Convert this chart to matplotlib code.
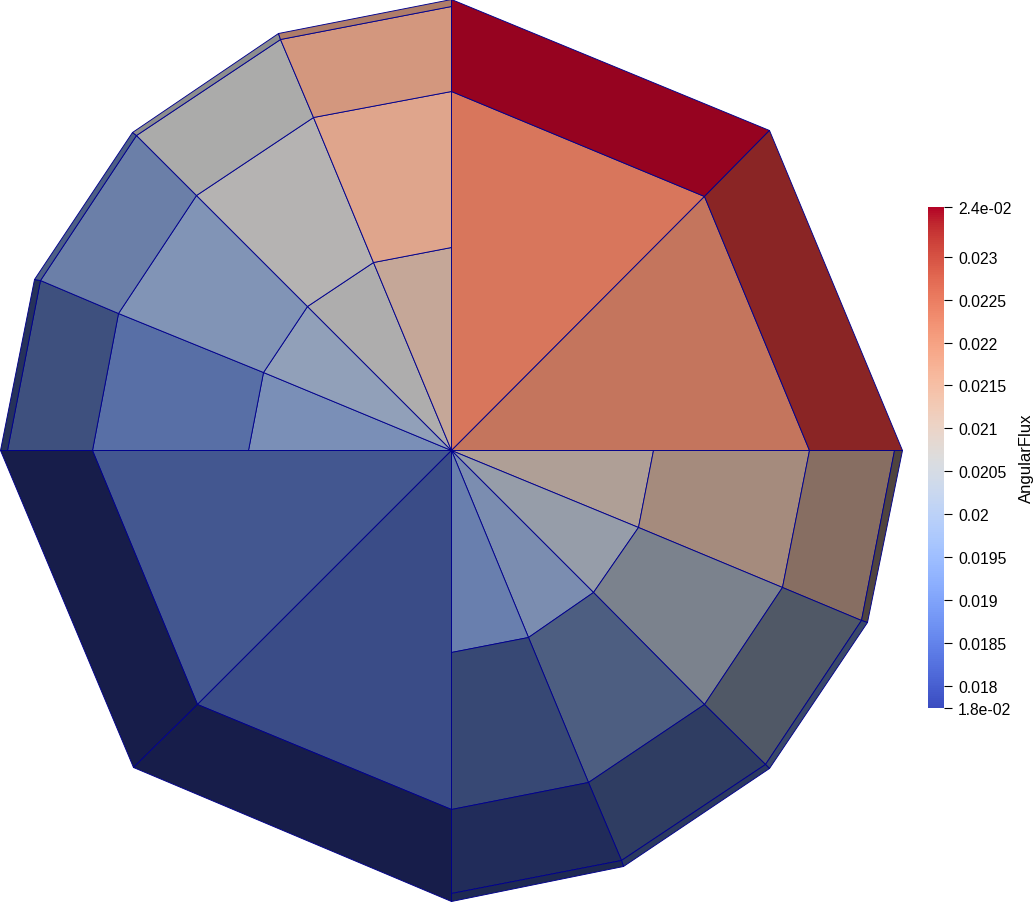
import numpy as np
import matplotlib
matplotlib.use("Agg")
import matplotlib.pyplot as plt
from matplotlib.cm import ScalarMappable
from matplotlib.collections import PolyCollection
from matplotlib.colors import Normalize

plt.rcParams['font.family'] = ['Liberation Sans', 'DejaVu Sans']

# mesh nodes, in screen units of the render
center = (452, 452)
nw_ring1 = [(249, 452), (264, 374), (308, 308), (374, 264), (452, 249)]
nw_ring2 = [(93, 452), (119, 315), (197, 197), (314, 119), (452, 93)]
nw_ring3 = [(8, 452), (41, 282), (137, 137), (281, 41), (452, 8)]
nw_ring4 = [(1, 452), (35, 281), (133, 134), (279, 35), (452, 1)]
se_ring1 = [(654, 452), (639, 529), (594, 594), (529, 639), (452, 654)]
se_ring2 = [(810, 452), (783, 589), (705, 706), (589, 784), (452, 811)]
se_ring3 = [(895, 452), (862, 622), (766, 766), (622, 862), (452, 895)]
se_ring4 = [(903, 452), (868, 624), (770, 770), (624, 868), (452, 903)]
ne_inner = [(452, 93), (705, 198), (810, 452)]
ne_outer = [(452, 1), (770, 132), (903, 452)]
sw_inner = [(93, 452), (198, 706), (452, 811)]
sw_outer = [(1, 452), (134, 769), (452, 903)]

# flux per cell, rows are sectors, columns go from the centre outwards
nw_flux = [[0.01967, 0.01907, 0.01889, 0.01847],
           [0.02008, 0.01982, 0.01956, 0.01930],
           [0.02066, 0.02069, 0.02066, 0.02065],
           [0.02119, 0.02165, 0.02175, 0.02175]]
se_flux = [[0.02096, 0.02125, 0.02133, 0.02113],
           [0.02037, 0.02032, 0.02008, 0.01926],
           [0.01978, 0.01938, 0.01883, 0.01874],
           [0.01941, 0.01879, 0.01813, 0.01818]]
ne_flux = [[0.02244, 0.02356], [0.02224, 0.02327]]
sw_flux = [[0.01873, 0.01774], [0.01853, 0.01774]]

# brightness of each cell, the surface was rendered with lighting on
nw_shade = [[0.723, 0.658, 0.506, 0.385],
            [0.755, 0.725, 0.660, 0.523],
            [0.786, 0.815, 0.775, 0.642],
            [0.818, 0.903, 0.853, 0.706]]
se_shade = [[0.748, 0.685, 0.556, 0.330],
            [0.723, 0.598, 0.416, 0.410],
            [0.699, 0.508, 0.398, 0.393],
            [0.682, 0.473, 0.415, 0.374]]
ne_shade = [[0.915, 0.834], [0.813, 0.692]]
sw_shade = [[0.593, 0.385], [0.573, 0.385]]

flux_min = 0.01774
flux_max = 0.02358
tick_values = [flux_max, 0.023, 0.0225, 0.022, 0.0215, 0.021, 0.0205, 0.02,
               0.0195, 0.019, 0.0185, 0.018, flux_min]
tick_labels = ['2.4e-02', '0.023', '0.0225', '0.022', '0.0215', '0.021', '0.0205',
               '0.02', '0.0195', '0.019', '0.0185', '0.018', '1.8e-02']


def sector_cells(rings, flux, shade):
    polys, vals, shades = [], [], []
    for i in range(len(rings[0]) - 1):
        for r in range(len(rings)):
            if r == 0:
                polys.append([center, rings[0][i], rings[0][i + 1]])
            else:
                polys.append([rings[r - 1][i], rings[r][i], rings[r][i + 1], rings[r - 1][i + 1]])
            vals.append(flux[i][r])
            shades.append(shade[i][r])
    return polys, vals, shades


fig = plt.figure(figsize=(10.34, 9.04), dpi=100)
ax = fig.add_axes([0, 0, 1, 1])
ax.set_xlim(0.5, 1034.5)
ax.set_ylim(904.5, 0.5)
ax.axis('off')

polys, vals, shades = [], [], []
for rings, flux, shade in [([nw_ring1, nw_ring2, nw_ring3, nw_ring4], nw_flux, nw_shade),
                           ([se_ring1, se_ring2, se_ring3, se_ring4], se_flux, se_shade),
                           ([ne_inner, ne_outer], ne_flux, ne_shade),
                           ([sw_inner, sw_outer], sw_flux, sw_shade)]:
    p, v, s = sector_cells(rings, flux, shade)
    polys += p
    vals += v
    shades += s

norm = Normalize(flux_min, flux_max)
cmap = plt.get_cmap('coolwarm')
colors = cmap(norm(np.array(vals)))
colors[:, :3] *= np.array(shades)[:, None]
ax.add_collection(PolyCollection(polys, facecolors=colors, edgecolors='#00008c', linewidths=0.65))

cax = fig.add_axes([928 / 1034, 1 - 709 / 904, 16 / 1034, 501 / 904])
cb = fig.colorbar(ScalarMappable(norm=norm, cmap=cmap), cax=cax)
cb.outline.set_visible(False)
cb.set_ticks(tick_values, labels=tick_labels)
cax.set_yticks(tick_values, minor=True)
cax.tick_params(which='major', direction='out', length=5.8, width=0.8, pad=4.2, labelsize=11.3)
cax.tick_params(which='minor', direction='in', length=2.9, width=0.8)
cb.set_label('AngularFlux', fontsize=12, labelpad=5.5)

fig.savefig('out.png', dpi=100)
